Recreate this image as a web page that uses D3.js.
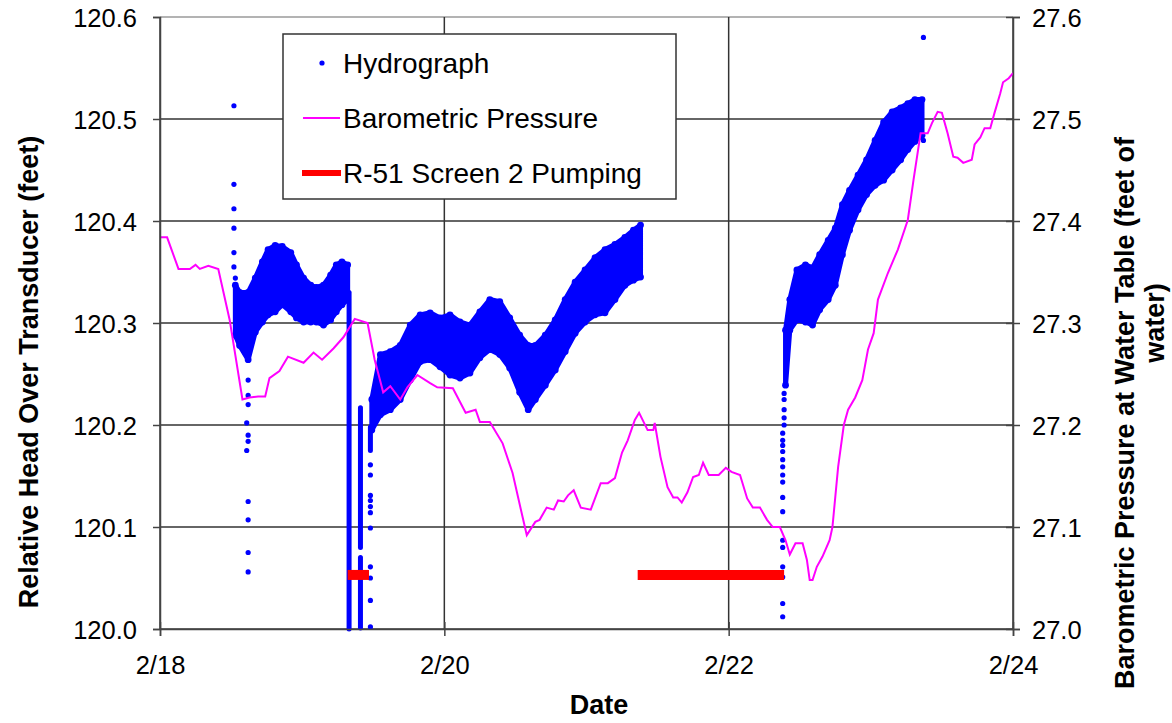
<!DOCTYPE html>
<html>
<head>
<meta charset="utf-8">
<script src="https://cdn.jsdelivr.net/npm/d3@7"></script>
<style>
  body { margin: 0; background: #fff; }
  svg { display: block; font-family: "Liberation Sans", Arial, sans-serif; }
</style>
</head>
<body>
<div id="chart"></div>
<script>
// days are day-of-month in February (18 = 2/18 00:00)
const xTicks = [18, 20, 22, 24];
const leftTicks = [120.0, 120.1, 120.2, 120.3, 120.4, 120.5, 120.6];
const rightTicks = [27.0, 27.1, 27.2, 27.3, 27.4, 27.5, 27.6];

// barometric pressure (right axis)
const baroDay = [18.00,18.05,18.13,18.21,18.25,18.28,18.34,18.41,18.49,18.58,18.63,18.69,18.74,18.77,18.84,18.90,19.01,19.08,19.14,19.22,19.29,19.37,19.46,19.51,19.57,19.62,19.69,19.74,19.81,19.90,19.95,20.06,20.15,20.22,20.25,20.32,20.41,20.48,20.55,20.58,20.64,20.67,20.72,20.77,20.80,20.84,20.87,20.91,20.96,21.03,21.10,21.15,21.20,21.25,21.29,21.34,21.37,21.43,21.47,21.48,21.52,21.57,21.61,21.64,21.67,21.71,21.75,21.79,21.82,21.86,21.93,21.98,22.02,22.08,22.13,22.17,22.22,22.27,22.31,22.36,22.40,22.43,22.47,22.52,22.55,22.57,22.59,22.62,22.66,22.71,22.73,22.77,22.81,22.84,22.89,22.94,22.98,23.02,23.05,23.12,23.19,23.26,23.30,23.35,23.40,23.43,23.47,23.50,23.54,23.58,23.61,23.65,23.71,23.73,23.77,23.80,23.84,23.87,23.91,23.93,23.97,24.00];
const baroVal = [27.384,27.384,27.353,27.353,27.357,27.353,27.356,27.353,27.303,27.225,27.227,27.228,27.228,27.246,27.253,27.267,27.261,27.271,27.264,27.275,27.286,27.304,27.300,27.264,27.232,27.238,27.225,27.237,27.249,27.241,27.237,27.236,27.212,27.215,27.203,27.203,27.182,27.153,27.110,27.092,27.105,27.107,27.119,27.117,27.126,27.125,27.131,27.136,27.119,27.117,27.143,27.143,27.148,27.173,27.185,27.205,27.212,27.195,27.195,27.202,27.169,27.139,27.129,27.129,27.124,27.134,27.149,27.151,27.163,27.151,27.151,27.158,27.154,27.151,27.128,27.119,27.119,27.107,27.100,27.100,27.087,27.073,27.084,27.084,27.068,27.048,27.048,27.061,27.071,27.087,27.100,27.159,27.200,27.215,27.227,27.244,27.274,27.290,27.323,27.349,27.372,27.401,27.440,27.486,27.486,27.496,27.507,27.506,27.486,27.463,27.462,27.457,27.460,27.475,27.482,27.491,27.491,27.506,27.525,27.536,27.540,27.545];

// pumping periods (left axis level of the marker)
const pumpStart = [19.32, 21.36];
const pumpEnd = [19.47, 22.39];
const pumpLevel = 120.053;

// hydrograph: dense cloud read as low / high envelope per time
const hydroDay = [
  [18.53,18.56,18.62,18.67,18.72,18.76,18.81,18.86,18.92,18.96,19.01,19.06,19.10,19.15,19.20,19.24,19.28,19.32],
  [19.49,19.55,19.62,19.69,19.76,19.83,19.90,19.97,20.04,20.11,20.18,20.25,20.32,20.39,20.46,20.53,20.59,20.64,20.71,20.78,20.85,20.92,20.99,21.06,21.13,21.20,21.27,21.33,21.38],
  [22.40,22.43,22.48,22.54,22.59,22.64,22.70,22.75,22.80,22.85,22.91,22.97,23.03,23.09,23.15,23.21,23.26,23.31,23.36]
];
const hydroHigh = [
  [120.337,120.330,120.330,120.344,120.360,120.372,120.376,120.375,120.369,120.357,120.344,120.337,120.335,120.337,120.347,120.357,120.360,120.357],
  [120.225,120.269,120.272,120.278,120.298,120.308,120.310,120.305,120.308,120.301,120.298,120.311,120.323,120.321,120.305,120.288,120.278,120.278,120.288,120.303,120.323,120.340,120.352,120.364,120.372,120.377,120.384,120.391,120.396],
  [120.293,120.323,120.352,120.357,120.354,120.367,120.381,120.393,120.416,120.430,120.445,120.460,120.479,120.497,120.507,120.511,120.515,120.519,120.519]
];
const hydroLow = [
  [120.288,120.278,120.264,120.291,120.301,120.308,120.311,120.318,120.311,120.305,120.301,120.301,120.301,120.298,120.303,120.311,120.318,120.323],
  [120.195,120.210,120.215,120.225,120.244,120.262,120.264,120.257,120.249,120.246,120.251,120.266,120.274,120.269,120.256,120.232,120.215,120.225,120.239,120.254,120.272,120.290,120.301,120.308,120.310,120.323,120.337,120.342,120.345],
  [120.239,120.293,120.303,120.301,120.298,120.313,120.323,120.337,120.367,120.391,120.411,120.426,120.435,120.440,120.450,120.460,120.470,120.478,120.484]
];

// near-vertical runs of readings during the pumping drawdowns
const colDay = [19.33, 19.41, 19.41, 19.48];
const colLow = [120.000, 120.080, 120.001, 120.175];
const colHigh = [120.330, 120.217, 120.070, 120.198];

// isolated hydrograph readings
const ptDay = [18.52,18.52,18.52,18.52,18.52,18.52,18.53,18.62,18.62,18.62,18.61,18.62,18.62,18.61,18.62,18.62,18.62,18.62,
  19.48,19.48,19.48,19.48,19.48,19.48,19.48,19.48,19.48,19.48,19.48,
  22.38,22.38,22.38,22.38,22.38,22.38,22.38,22.38,22.38,22.38,22.38,22.38,22.38,22.38,22.38,22.38,22.39,22.39,22.39,22.39,22.39,
  23.37,23.37];
const ptVal = [120.513,120.436,120.412,120.393,120.369,120.355,120.344,120.244,120.229,120.220,120.202,120.190,120.184,120.175,120.125,120.107,120.075,120.056,
  120.161,120.151,120.131,120.126,120.120,120.114,120.099,120.061,120.050,120.028,120.002,
  120.012,120.025,120.051,120.061,120.080,120.087,120.115,120.129,120.144,120.151,120.159,120.166,120.174,120.180,120.185,120.192,120.200,120.207,120.215,120.225,120.231,
  120.580,120.479];

const legendItems = ["Hydrograph", "Barometric Pressure", "R-51 Screen 2 Pumping"];

const W = 1172, H = 723;
const plot = { left: 160, right: 1013, top: 17, bottom: 629 };

const svg = d3.select("#chart").append("svg").attr("width", W).attr("height", H);

const x = d3.scaleLinear().domain([18, 24]).range([plot.left, plot.right]);
const yL = d3.scaleLinear().domain([120.0, 120.6]).range([plot.bottom, plot.top]);
const yR = d3.scaleLinear().domain([27.0, 27.6]).range([plot.bottom, plot.top]);

const blue = "#0000ff", magenta = "#ff00ff", red = "#ff0000";

// gridlines
svg.append("g").selectAll("line").data(leftTicks).enter().append("line")
    .attr("x1", plot.left).attr("x2", plot.right)
    .attr("y1", d => yL(d)).attr("y2", d => yL(d))
    .attr("stroke", d => d === 120.6 ? "#9a9a9a" : "#333").attr("stroke-width", 1.5);
svg.append("g").selectAll("line").data(xTicks).enter().append("line")
    .attr("x1", d => x(d)).attr("x2", d => x(d))
    .attr("y1", plot.top).attr("y2", plot.bottom)
    .attr("stroke", "#333").attr("stroke-width", 1.5);

// hydrograph cloud
const hydro = svg.append("g");
hydroDay.forEach((days, s) => {
    const rows = days.map((d, i) => ({ d, lo: hydroLow[s][i], hi: hydroHigh[s][i] }));
    hydro.append("path")
        .datum(rows)
        .attr("d", d3.area().x(r => x(r.d)).y0(r => yL(r.lo)).y1(r => yL(r.hi)))
        .attr("fill", blue)
        .attr("stroke", blue)
        .attr("stroke-width", 5)
        .attr("stroke-linejoin", "round");
    hydro.selectAll(null).data(rows.flatMap(r => [[r.d, r.lo], [r.d, r.hi]])).enter().append("circle")
        .attr("cx", p => x(p[0])).attr("cy", p => yL(p[1])).attr("r", 3.4).attr("fill", blue);
});
hydro.selectAll(null).data(colDay).enter().append("line")
    .attr("x1", d => x(d)).attr("x2", d => x(d))
    .attr("y1", (d, i) => yL(colLow[i])).attr("y2", (d, i) => yL(colHigh[i]))
    .attr("stroke", blue).attr("stroke-width", 5).attr("stroke-linecap", "round");
hydro.selectAll(null).data(ptDay).enter().append("circle")
    .attr("cx", d => x(d)).attr("cy", (d, i) => yL(ptVal[i])).attr("r", 2.6).attr("fill", blue);

// barometric pressure
svg.append("path")
    .datum(baroDay.map((d, i) => [d, baroVal[i]]))
    .attr("d", d3.line().x(p => x(p[0])).y(p => yR(p[1])))
    .attr("fill", "none").attr("stroke", magenta).attr("stroke-width", 2);

// pumping periods
svg.append("g").selectAll("line").data(pumpStart).enter().append("line")
    .attr("x1", d => x(d)).attr("x2", (d, i) => x(pumpEnd[i]))
    .attr("y1", yL(pumpLevel)).attr("y2", yL(pumpLevel))
    .attr("stroke", red).attr("stroke-width", 10);

// axes
const axisColor = "#444";
const fs = "25.5px";
const left = svg.append("g").attr("transform", `translate(${plot.left},0)`)
    .call(d3.axisLeft(yL).tickValues(leftTicks).tickFormat(d3.format(".1f")).tickSize(7).tickPadding(16));
const right = svg.append("g").attr("transform", `translate(${plot.right},0)`)
    .call(d3.axisRight(yR).tickValues(rightTicks).tickFormat(d3.format(".1f")).tickSize(7).tickPadding(12));
const bottom = svg.append("g").attr("transform", `translate(0,${plot.bottom})`)
    .call(d3.axisBottom(x).tickValues(xTicks).tickFormat(d => "2/" + d).tickSize(7).tickPadding(20));
[left, right, bottom].forEach(g => {
    g.select(".domain").attr("stroke", axisColor).attr("stroke-width", 1.5);
    g.selectAll(".tick line").attr("stroke", axisColor).attr("stroke-width", 1.5);
    g.selectAll(".tick text").attr("fill", "#000").style("font-size", fs);
});
right.selectAll(".tick line").attr("x1", -7);
bottom.selectAll(".tick line").attr("y1", -7);
left.selectAll(".tick text").attr("dy", "0.36em");
right.selectAll(".tick text").attr("dy", "0.36em");
bottom.selectAll(".tick text").attr("dy", "0.71em");

// axis titles
svg.append("text").attr("transform", "translate(38,372) rotate(-90)")
    .attr("text-anchor", "middle").style("font-size", "27px").style("font-weight", "bold")
    .text("Relative Head Over Transducer (feet)");
svg.append("text").attr("transform", "translate(1134,413) rotate(-90)")
    .attr("text-anchor", "middle").style("font-size", "27px").style("font-weight", "bold")
    .text("Barometric Pressure at Water Table (feet of");
svg.append("text").attr("transform", "translate(1164,323) rotate(-90)")
    .attr("text-anchor", "middle").style("font-size", "27px").style("font-weight", "bold")
    .text("water)");
svg.append("text").attr("x", 599).attr("y", 714)
    .attr("text-anchor", "middle").style("font-size", "27px").style("font-weight", "bold")
    .text("Date");

// legend
const lg = svg.append("g");
lg.append("rect").attr("x", 283).attr("y", 34).attr("width", 393).attr("height", 165)
    .attr("fill", "#fff").attr("stroke", "#333").attr("stroke-width", 1.5);
const rowY = [63, 118, 173];
lg.append("circle").attr("cx", 322).attr("cy", rowY[0]).attr("r", 2.6).attr("fill", blue);
lg.append("line").attr("x1", 303).attr("x2", 340).attr("y1", rowY[1]).attr("y2", rowY[1])
    .attr("stroke", magenta).attr("stroke-width", 2);
lg.append("line").attr("x1", 302).attr("x2", 341).attr("y1", rowY[2]).attr("y2", rowY[2])
    .attr("stroke", red).attr("stroke-width", 6);
lg.selectAll("text").data(legendItems).enter().append("text")
    .attr("x", 343).attr("y", (d, i) => rowY[i] + 10)
    .style("font-size", "28px")
    .text(d => d);
</script>
</body>
</html>
